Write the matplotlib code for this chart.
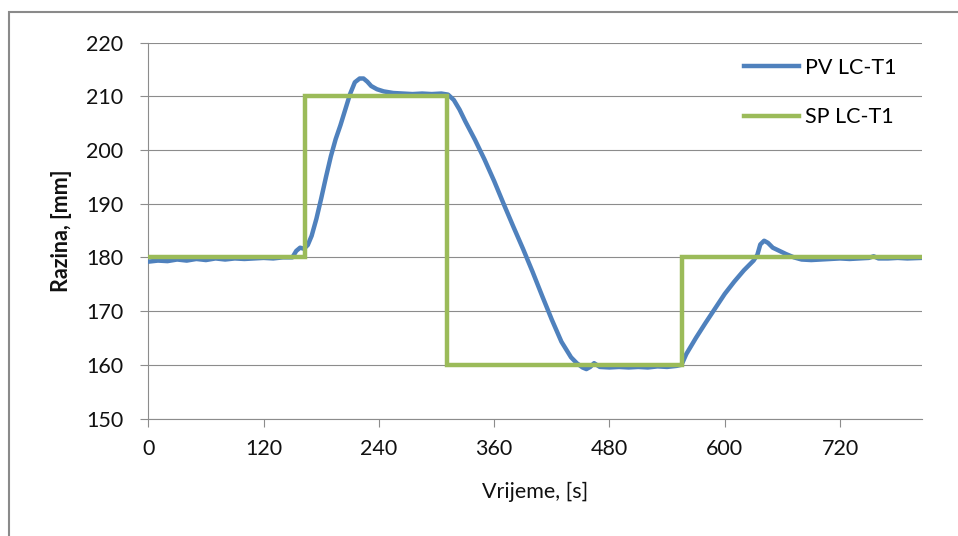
#!/usr/bin/env python3
"""
Odziv regulacijskog kruga razine LC-T1 (PV i SP kroz vrijeme)
"""

import matplotlib
matplotlib.use('Agg')
import matplotlib.pyplot as plt

# Mjerena razina (PV) - ocitano sa slike
pv_t = [0, 10, 20, 30, 40, 50, 60, 70, 80, 90, 100, 110, 120, 130, 140, 150,
        154, 158, 162, 166, 170, 175, 180, 185, 190, 195, 200, 205, 210, 215,
        220, 224, 228, 232, 238, 245, 255, 265, 275, 285, 295, 305, 312, 318,
        324, 330, 340, 350, 360, 370, 380, 390, 400, 410, 420, 430, 440, 446,
        452, 456, 460, 464, 470, 480, 490, 500, 510, 520, 530, 540, 550, 555,
        560, 565, 570, 580, 590, 600, 610, 620, 630, 634, 637, 641, 645, 650,
        657, 664, 672, 680, 690, 700, 710, 720, 730, 740, 750, 755, 760, 770,
        780, 790, 805]
pv_val = [179.2, 179.4, 179.3, 179.6, 179.4, 179.7, 179.5, 179.8, 179.6, 179.8,
          179.7, 179.8, 179.9, 179.8, 180.0, 180.0, 181.2, 181.8, 181.6, 182.3,
          184.0, 187.2, 191.0, 195.0, 198.8, 202.0, 204.6, 207.5, 210.4, 212.6,
          213.3, 213.3, 212.7, 211.9, 211.3, 210.9, 210.6, 210.5, 210.4, 210.5,
          210.4, 210.5, 210.3, 209.3, 207.5, 205.3, 201.9, 198.2, 194.2, 189.9,
          185.7, 181.6, 177.3, 172.8, 168.4, 164.3, 161.4, 160.3, 159.5, 159.2,
          159.6, 160.3, 159.6, 159.5, 159.6, 159.5, 159.6, 159.5, 159.7, 159.6,
          159.8, 160.0, 162.0, 163.5, 165.0, 167.8, 170.5, 173.2, 175.5, 177.6,
          179.4, 180.5, 182.4, 183.1, 182.7, 181.8, 181.2, 180.6, 180.0, 179.6,
          179.5, 179.6, 179.7, 179.8, 179.7, 179.8, 179.9, 180.2, 179.8, 179.8,
          179.9, 179.8, 179.9]

# Zadana vrijednost (SP) - skokovi
sp_t = [0, 163, 163, 311, 311, 555, 555, 805]
sp_val = [180, 180, 210, 210, 160, 160, 180, 180]

x_ticks = [0, 120, 240, 360, 480, 600, 720]
y_ticks = [150, 160, 170, 180, 190, 200, 210, 220]

plt.rcParams['font.family'] = ['Lato', 'DejaVu Sans']
fs = 15.5

fig = plt.figure(figsize=(9.58, 5.36), dpi=100)
ax = fig.add_axes([0.1548, 0.2192, 0.9621 - 0.1548, 0.9207 - 0.2192])

# okvir grafikona
fig.patches.append(plt.Rectangle((9 / 958, -0.1), 1.2, 1 - 12 / 536 + 0.1,
                                 transform=fig.transFigure, fill=False,
                                 ec='#8a8a8a', lw=1.5))

ax.plot(pv_t, pv_val, color='#4F81BD', lw=3.2, label='PV LC-T1', zorder=3)
ax.plot(sp_t, sp_val, color='#9BBB59', lw=3.2, label='SP LC-T1', zorder=4,
        solid_joinstyle='miter')

ax.set_xlim(0, 805)
ax.set_ylim(150, 220)
ax.set_xticks(x_ticks)
ax.set_yticks(y_ticks)
ax.grid(True, axis='y', color='#8c8c8c', lw=0.8)
ax.set_axisbelow(True)

for s in ['top', 'right']:
    ax.spines[s].set_visible(False)
for s in ['left', 'bottom']:
    ax.spines[s].set_color('#8c8c8c')
    ax.spines[s].set_linewidth(0.8)

ax.tick_params(axis='both', direction='out', length=6, width=0.8,
               color='#8c8c8c', labelsize=fs, labelcolor='#111111')
ax.tick_params(axis='y', pad=12)
ax.tick_params(axis='x', pad=9)

ax.set_xlabel('Vrijeme, [s]', fontsize=fs, color='#111111', labelpad=16)
ax.set_ylabel('Razina, [mm]', fontsize=fs, fontweight='bold', color='#111111',
              labelpad=10)

ax.legend(loc='upper left', bbox_to_anchor=(744 / 958, 1 - 58 / 536),
          bbox_transform=fig.transFigure, frameon=False, fontsize=fs,
          handlelength=2.55, handletextpad=0.28, labelspacing=1.35,
          borderpad=0, borderaxespad=0)

plt.savefig('out.png', dpi=100)
